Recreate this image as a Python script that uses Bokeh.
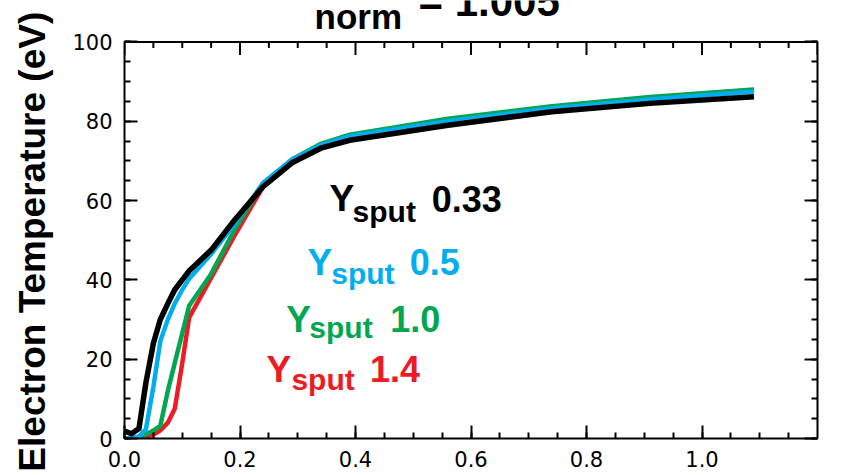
import numpy as np
from bokeh.plotting import figure
from bokeh.models import LinearAxis, Label, Range1d, SingleIntervalTicker, PrintfTickFormatter, Span
from bokeh.embed import file_html
from bokeh.resources import INLINE

# ---- data ----
x_pos = [0.0, 0.012, 0.025, 0.037, 0.05, 0.062, 0.075, 0.087, 0.1, 0.112,
         0.15, 0.19, 0.24, 0.29, 0.34, 0.39, 0.56, 0.74, 0.91, 1.09]
te_y033 = [1.9, 1.2, 2.5, 14.0, 24.0, 30.0, 34.0, 37.5, 40.0, 42.3,
           47.5, 55.0, 63.5, 69.5, 73.2, 75.2, 79.0, 82.4, 84.5, 86.2]
te_y05 = [0.0, 0.1, 0.5, 2.3, 13.0, 24.5, 30.0, 34.0, 37.5, 40.3,
          46.5, 54.0, 64.5, 70.3, 74.0, 76.2, 80.0, 83.3, 85.5, 87.5]
te_y10 = [0.0, 0.05, 0.3, 1.0, 2.0, 3.2, 12.0, 19.0, 26.5, 33.5,
          41.5, 52.5, 64.3, 70.4, 74.3, 76.6, 80.6, 83.8, 86.1, 88.0]
te_y14 = [0.0, 0.05, 0.2, 0.5, 1.0, 2.0, 4.0, 7.5, 19.0, 30.5,
          40.5, 51.0, 63.5, 70.2, 74.1, 76.4, 80.4, 83.6, 85.9, 87.9]
series_names = ["0.33", "0.5", "1.0", "1.4"]
series_colors = ["#000000", "#00AEEF", "#00A651", "#ED1C24"]
x_min, x_max = 0.0, 1.2
y_min, y_max = 0, 100
x_tick_step = 0.2
y_tick_step = 20
title_sub = "norm"
title_main = "= 1.005"
y_title = "Electron Temperature (eV)"

# frame geometry: the plotting frame reaches the top edge of the picture so the
# (partly hidden) title can sit above the y=100 line; the box itself ends at y=100
W, H = 842, 475
border_left, border_right, border_bottom = 124, 25, 37
frame_h = H - border_bottom
px_per_unit = 396.6 / (y_max - y_min)
y_top = y_min + frame_h / px_per_unit

p = figure(width=W, height=H, x_range=Range1d(x_min, x_max), y_range=Range1d(y_min, y_top),
           output_backend="svg", toolbar_location=None,
           min_border_left=border_left, min_border_right=border_right,
           min_border_top=0, min_border_bottom=border_bottom,
           background_fill_color="white", border_fill_color="white")
p.title.visible = False
p.xgrid.visible = False
p.ygrid.visible = False
p.outline_line_color = None

tick_font = "DejaVu Sans"
major_len, minor_len = 13, 6

def style_axis(ax, labels=True):
    ax.axis_line_width = 2
    ax.axis_line_color = "black"
    ax.major_tick_in = major_len
    ax.major_tick_out = 0
    ax.minor_tick_in = minor_len
    ax.minor_tick_out = 0
    ax.major_tick_line_width = 2
    ax.minor_tick_line_width = 2
    ax.major_tick_line_color = "black"
    ax.minor_tick_line_color = "black"
    if labels:
        ax.major_label_text_font = tick_font
        ax.major_label_text_font_size = "21px"
        ax.major_label_text_color = "black"
    else:
        ax.major_label_text_font_size = "0px"
        ax.major_label_standoff = 0

p.xaxis.ticker = SingleIntervalTicker(interval=x_tick_step, num_minor_ticks=4)
p.yaxis.ticker = SingleIntervalTicker(interval=y_tick_step, num_minor_ticks=4)
p.xaxis.formatter = PrintfTickFormatter(format="%.1f")
p.yaxis.formatter = PrintfTickFormatter(format="%d")
style_axis(p.xaxis[0])
style_axis(p.yaxis[0])
p.yaxis.bounds = (y_min, y_max)
p.xaxis.major_label_standoff = 12
p.yaxis.major_label_standoff = 12

# the axis title is centred on the (taller) frame; trailing em/thin spaces move the
# visible words down so they are centred on the 0-100 box like the reference
p.yaxis.axis_label = y_title + "\u2003\u2009"
p.yaxis.axis_label_text_font = "Liberation Sans"
p.yaxis.axis_label_text_font_style = "bold"
p.yaxis.axis_label_text_font_size = "37px"
p.yaxis.axis_label_text_color = "black"
p.yaxis.axis_label_standoff = 16

right_ax = LinearAxis(ticker=SingleIntervalTicker(interval=y_tick_step, num_minor_ticks=4),
                      bounds=(y_min, y_max))
style_axis(right_ax, labels=False)
p.add_layout(right_ax, "right")

# top edge of the box with inward ticks (mirrors the bottom axis)
p.add_layout(Span(location=y_max, dimension="width", line_color="black", line_width=2))
top_major = np.arange(x_min, x_max + 1e-9, x_tick_step)
top_minor = np.arange(x_min, x_max + 1e-9, x_tick_step / 4)
top_minor = top_minor[np.abs(np.round(top_minor / x_tick_step) * x_tick_step - top_minor) > 1e-9]
p.segment(x0=top_major, y0=[y_max] * len(top_major), x1=top_major,
          y1=[y_max - major_len / px_per_unit] * len(top_major), line_color="black", line_width=2)
p.segment(x0=top_minor, y0=[y_max] * len(top_minor), x1=top_minor,
          y1=[y_max - minor_len / px_per_unit] * len(top_minor), line_color="black", line_width=2)

all_series = [te_y033, te_y05, te_y10, te_y14]
widths = [5.5, 4.5, 4.5, 4.5]
# draw red first, black last (black on top)
for vals, col, w in reversed(list(zip(all_series, series_colors, widths))):
    p.line(x_pos, vals, line_color=col, line_width=w, line_join="miter")

# annotations: Y_sput labels
lab_pos = [
    ((0.355, 60.4), (0.395, 57.3), (0.532, 60.4)),
    ((0.317, 44.4), (0.358, 41.7), (0.494, 44.4)),
    ((0.280, 30.1), (0.320, 27.9), (0.460, 30.1)),
    ((0.246, 17.5), (0.289, 14.9), (0.425, 17.5)),
]
for name, col, (pY, pS, pV) in zip(series_names, series_colors, lab_pos):
    for txt, (lx, ly), fs in (("Y", pY, "37px"), ("sput", pS, "30px"), (name, pV, "36px")):
        p.add_layout(Label(x=lx, y=ly, text=txt, text_color=col, text_font="Liberation Sans",
                           text_font_style="bold", text_font_size=fs,
                           text_align="left", text_baseline="alphabetic"))

# title: only its lower part is inside the picture
p.add_layout(Label(x=0.3290, y=106.4, text=title_sub, text_color="black", text_font="Liberation Sans",
                   text_font_style="bold", text_font_size="35px", text_align="left",
                   text_baseline="alphabetic"))
p.add_layout(Label(x=0.509, y=110.3, text=title_main, text_color="black", text_font="Liberation Sans",
                   text_font_style="bold", text_font_size="42px", text_align="left",
                   text_baseline="alphabetic"))

open("out.html", "w").write(file_html(p, INLINE))
